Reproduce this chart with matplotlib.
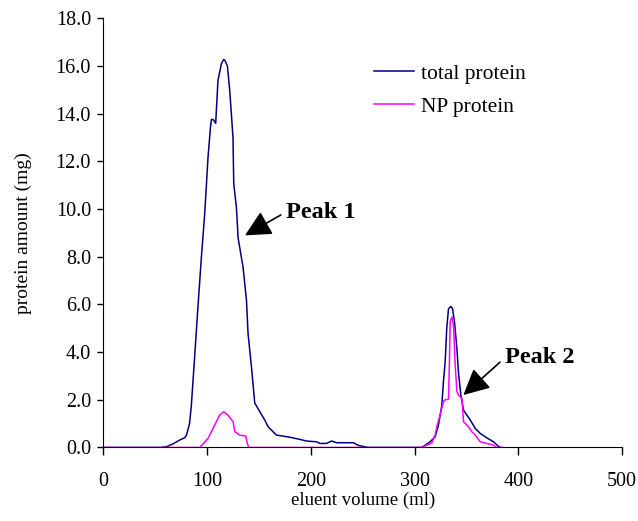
import matplotlib.pyplot as plt
from matplotlib.ticker import FormatStrFormatter

# total protein (navy line)
total_ml = [0, 55, 60.6, 67, 73.4, 78.3, 80, 83, 84.7, 87.9, 91.1, 94.4, 97.6,
            100.8, 103.1, 104.1, 106, 108.2, 110.4, 113.7, 115.9, 117, 119.5,
            121.7, 124.9, 125.6, 128.2, 129.8, 134.6, 137.9, 139.4, 142.7,
            145.9, 147.5, 150.7, 155.6, 158.7, 166.8, 170, 179.7, 189.4,
            195.8, 205.5, 208.7, 215, 220, 224.8, 240.9, 245.7, 255.4, 307,
            315, 319.8, 323, 326.3, 327.8, 329.5, 331, 332.7, 335, 336.6,
            338.5, 340.8, 342.3, 344.6, 347.2, 350.4, 353.6, 358.5, 363.3,
            371.3, 376.1, 381, 383]
total_mg = [0, 0, 0.03, 0.15, 0.31, 0.41, 0.52, 1.0, 1.75, 3.8, 5.9, 7.98, 9.8,
            12.17, 13.4, 13.77, 13.75, 13.6, 15.4, 16.1, 16.28, 16.25, 16.0,
            15.0, 13.0, 11.07, 10.07, 8.8, 7.56, 6.17, 4.78, 3.38,
            1.85, 1.75, 1.5, 1.15, 0.87, 0.52, 0.5, 0.43, 0.34,
            0.27, 0.24, 0.17, 0.17, 0.27, 0.2, 0.2, 0.09, 0, 0,
            0.24, 0.45, 0.94, 1.78, 2.75, 3.59, 4.99, 5.82, 5.92, 5.82,
            5.27, 4.15, 3.17, 2.2, 1.57, 1.36, 1.16, 0.8, 0.59,
            0.36, 0.24, 0.04, 0]

# NP protein (magenta line)
np_ml = [0, 92.8, 100.8, 107.2, 112, 116, 120, 125, 126.6, 131.4, 137.2, 138.5,
         140, 307, 316.6, 319.8, 321.4, 324.6, 327.8, 329.5, 332.7, 333.6,
         334.3, 336, 337.6, 339, 340.8, 342.3, 345.6, 347.2, 352, 355.2,
         358.5, 363.3, 369.7, 376, 379, 386]
np_mg = [0, 0, 0.38, 0.94, 1.36, 1.5, 1.36, 1.08, 0.66, 0.52, 0.48, 0.2,
         0, 0, 0.19, 0.52, 0.87, 1.36, 1.92, 2.0, 2.03, 3.6,
         5.27, 5.48, 5.13, 3.59, 2.34, 2.2, 2.06, 1.08, 0.87, 0.66,
         0.52, 0.24, 0.17, 0.1, 0, 0]

plt.rcParams['font.family'] = ['Liberation Serif', 'DejaVu Serif']

fig = plt.figure(figsize=(6.38, 5.21), dpi=100)
ax = fig.add_axes([0.1622, 0.1411, 0.8127, 0.8234])

ax.plot(total_ml, total_mg, color='#000080', lw=1.1, label='total protein')
ax.plot(np_ml, np_mg, color='#FF00FF', lw=1.1, label='NP protein')

ax.set_xlim(0, 500)
ax.set_ylim(0, 18)
ax.set_xticks(range(0, 501, 100))
ax.set_yticks(range(0, 19, 2))
ax.yaxis.set_major_formatter(FormatStrFormatter('%.1f'))
ax.tick_params(direction='out', width=1, labelsize=14.5)
ax.tick_params(axis='y', length=4, pad=5)
ax.tick_params(axis='x', length=6, pad=12)
ax.spines['top'].set_visible(False)
ax.spines['right'].set_visible(False)

ax.set_xlabel('eluent volume (ml)', fontsize=13.5, labelpad=0)
ax.set_ylabel('protein amount (mg)', fontsize=14, labelpad=17)

ax.legend(loc='upper left', bbox_to_anchor=(0.485, 0.94), frameon=False,
          fontsize=15.5, handlelength=1.86, handletextpad=0.33, labelspacing=0.6)

arrow = dict(arrowstyle='-|>,head_length=0.8,head_width=0.4', color='black',
             lw=1.2, mutation_scale=20, shrinkA=2, shrinkB=0, relpos=(0, 0.5))
ax.annotate('Peak 1', xy=(136.4, 8.9), xytext=(176, 9.88), fontsize=17.5,
            fontweight='bold', ha='left', va='center', arrowprops=arrow)
ax.annotate('Peak 2', xy=(347, 2.2), xytext=(387, 3.76), fontsize=17.5,
            fontweight='bold', ha='left', va='center', arrowprops=arrow)

plt.savefig('out.png', dpi=100)
